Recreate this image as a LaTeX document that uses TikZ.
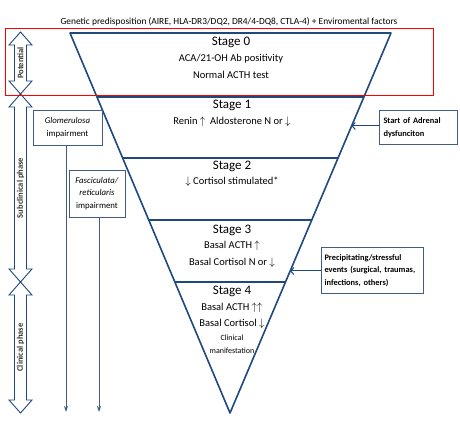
\documentclass[tikz,border=0pt]{standalone}
\usepackage{fontspec}
\setmainfont{Carlito}
\usetikzlibrary{arrows.meta, positioning, calc}
\definecolor{navy}{RGB}{31,73,125}
\definecolor{boxline}{RGB}{68,92,132}
\def\up{$\uparrow$}
\def\dn{$\downarrow$}

\begin{document}
\begin{tikzpicture}[x=1pt, y=-1pt,
  edge/.style={navy, line width=1.6pt, line join=round},
  cut/.style={navy, line width=1.3pt},
  stagehd/.style={font=\fontsize{13}{14}\selectfont, inner sep=0pt},
  stagetxt/.style={font=\fontsize{10.5}{12}\selectfont, inner sep=0pt},
  smalltxt/.style={font=\fontsize{8}{12.5}\selectfont, align=center, inner sep=0pt},
  phasebox/.style={draw=navy, fill=white, line width=0.9pt, line join=miter},
  phaselbl/.style={font=\fontsize{8.5}{9}\selectfont\bfseries, rotate=90, text=black!80, inner sep=0pt},
  sidebox/.style={draw=boxline, line width=1pt, font=\fontsize{8.8}{12.8}\selectfont, align=center, inner sep=0pt},
  notebox/.style={draw=boxline, line width=1pt, font=\fontsize{8.4}{12.5}\selectfont\bfseries, align=left, anchor=north west, inner ysep=0pt},
  pointer/.style={navy, line width=1pt, -{Straight Barb[length=3pt,width=7pt]}},
  drop/.style={boxline, line width=1pt, -{Stealth[length=6pt,width=4pt]}}
]
  \useasboundingbox (0,0) rectangle (460,428);

  \node[font=\fontsize{9.4}{10}\selectfont, inner sep=0pt] (title) at (229,22)
    {Genetic predisposition (AIRE, HLA-DR3/DQ2, DR4/4-DQ8, CTLA-4) + Enviromental factors};

  % funnel
  \coordinate (tl)  at (70,33);
  \coordinate (tr)  at (391,33);
  \coordinate (tip) at (230,413);
  \draw[edge] (tl) -- (tr) -- (tip) -- cycle;
  \foreach \f in {0.1684, 0.3289, 0.4921, 0.6553}
    \draw[cut] ($(tl)!\f!(tip)$) -- ($(tr)!\f!(tip)$);

  \node[stagehd]  (s0)  at (231,42)  {Stage 0};
  \node[stagetxt] (s0a) at (231,59)  {ACA/21-OH Ab positivity};
  \node[stagetxt] (s0b) at (231,75)  {Normal ACTH test};

  \node[stagehd]  (s1)  at (232,105) {Stage 1};
  \node[stagetxt] (s1a) at (232,122) {Renin \up\ \ Aldosterone N or \dn};

  \node[stagehd]  (s2)  at (232,166) {Stage 2};
  \node[stagetxt] (s2a) at (232,182) {\dn\ Cortisol stimulated*};

  \node[stagehd]  (s3)  at (232,230) {Stage 3};
  \node[stagetxt] (s3a) at (232,246) {Basal ACTH \up};
  \node[stagetxt] (s3b) at (232,263) {Basal Cortisol N or \dn};

  \node[stagehd]  (s4)  at (232,291) {Stage 4};
  \node[stagetxt] (s4a) at (232,308) {Basal ACTH \up\up};
  \node[stagetxt] (s4b) at (232,324) {Basal Cortisol \dn};
  \node[smalltxt] (s4c) at (232,344) {Clinical\\manifestation};

  % phases on the left
  \foreach \top/\bot/\lbl [count=\i] in {32/94/Potential, 94/282/Subclinical phase, 282/413/Clinical phase} {
    \draw[phasebox] (20.5,\top) -- (32,\top+13) -- (26.5,\top+13) -- (26.5,\bot-13)
      -- (32,\bot-13) -- (20.5,\bot) -- (9,\bot-13) -- (14.5,\bot-13)
      -- (14.5,\top+13) -- (9,\top+13) -- cycle;
    \node[phaselbl] (ph\i) at (20.5,{(\top+\bot)/2}) {\lbl};
  }

  % zona boxes
  \node[sidebox, minimum width=69pt, minimum height=35pt] (glom) at (67.5,127.5)
    {\textit{Glomerulosa}\\impairment};
  \node[sidebox, minimum width=56pt, minimum height=47pt] (fasc) at (97,193.5)
    {\textit{Fasciculata/}\\\textit{reticularis}\\impairment};
  \coordinate (glomend) at (66,412);
  \coordinate (fascend) at (99,412);
  \draw[drop] (glom.south -| glomend) -- (glomend);
  \draw[drop] (fasc.south -| fascend) -- (fascend);

  % notes on the right
  \node[notebox, minimum width=78pt, minimum height=34pt, text width=70pt, inner xsep=4pt] (start) at (379,110)
    {Start of Adrenal\\dysfunciton};
  \node[notebox, minimum width=102pt, minimum height=46pt, text width=96pt, inner xsep=3pt] (precip) at (321,247)
    {Precipitating/stressful\\events (surgical, traumas,\\infections, others)};
  \coordinate (hitA) at ($(tr)!0.2447!(tip)$);
  \coordinate (hitB) at ($(tr)!0.6263!(tip)$);
  \draw[pointer] (start.west |- hitA) -- (hitA);
  \draw[pointer] (precip.west |- hitB) -- (hitB);

  \draw[red, line width=1pt] (5,29) rectangle (433,95);
\end{tikzpicture}
\end{document}
